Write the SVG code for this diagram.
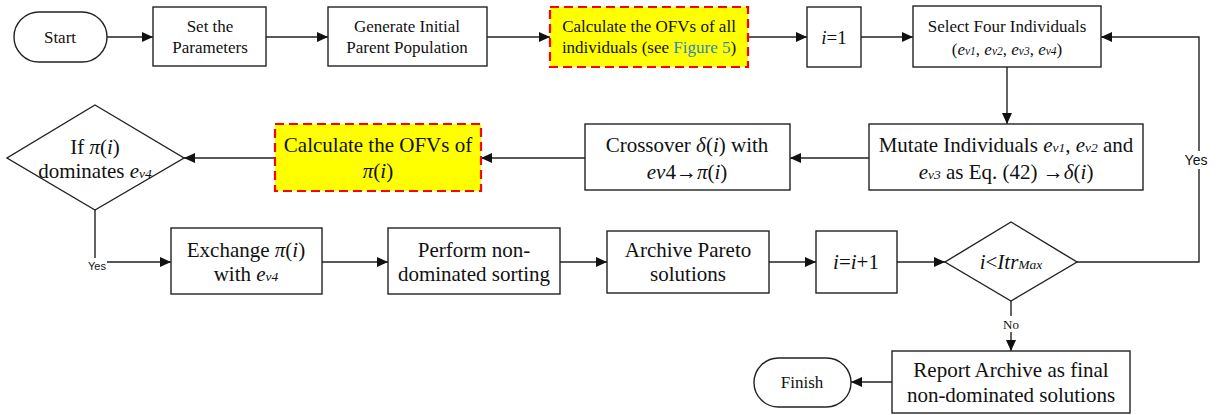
<svg xmlns="http://www.w3.org/2000/svg" width="1218" height="415" viewBox="0 0 1218 415">
<style>
.b{fill:#fff;stroke:#222;stroke-width:1.4}
.y{fill:#ffff00;stroke:#ff0000;stroke-width:2.2;stroke-dasharray:9,5}
.c{fill:none;stroke:#222;stroke-width:1.4}
text{font-family:"Liberation Serif","Times New Roman",serif;fill:#111;text-anchor:middle}
.s{font-size:17px}
.m{font-size:21px}
.i{font-style:italic}
.sub{font-size:11.5px;font-style:italic}
.sb{font-size:13.5px;font-style:italic}
.lbl{font-family:"Liberation Sans",Arial,sans-serif}
</style>
<defs>
<marker id="a" markerUnits="userSpaceOnUse" markerWidth="12" markerHeight="10" refX="11" refY="5" orient="auto">
<path d="M0,0 L11,5 L0,10 Z" fill="#111"/>
</marker>
</defs>
<g id="connectors">
<line class="c" x1="107" y1="37" x2="153" y2="37" marker-end="url(#a)"/>
<line class="c" x1="266" y1="37" x2="328" y2="37" marker-end="url(#a)"/>
<line class="c" x1="487" y1="37" x2="550" y2="37" marker-end="url(#a)"/>
<line class="c" x1="749" y1="37" x2="807" y2="37" marker-end="url(#a)"/>
<line class="c" x1="861" y1="37" x2="913" y2="37" marker-end="url(#a)"/>
<line class="c" x1="1007" y1="67" x2="1007" y2="124" marker-end="url(#a)"/>
<line class="c" x1="869" y1="158" x2="790" y2="158" marker-end="url(#a)"/>
<line class="c" x1="585" y1="158" x2="481" y2="158" marker-end="url(#a)"/>
<line class="c" x1="275" y1="158" x2="184" y2="158" marker-end="url(#a)"/>
<polyline class="c" points="95,210 95,262 171,262" marker-end="url(#a)"/>
<line class="c" x1="322" y1="262" x2="388" y2="262" marker-end="url(#a)"/>
<line class="c" x1="560" y1="262" x2="607" y2="262" marker-end="url(#a)"/>
<line class="c" x1="769" y1="262" x2="816" y2="262" marker-end="url(#a)"/>
<line class="c" x1="897" y1="262" x2="945" y2="262" marker-end="url(#a)"/>
<polyline class="c" points="1077,262 1199,262 1199,37 1101,37" marker-end="url(#a)"/>
<line class="c" x1="1011" y1="301" x2="1011" y2="351" marker-end="url(#a)"/>
<line class="c" x1="892" y1="382" x2="851" y2="382" marker-end="url(#a)"/>
<rect x="1185" y="151" width="28" height="18" fill="#fff"/>
<text class="lbl" x="1196" y="165" font-size="14">Yes</text>
<rect x="87" y="258" width="20" height="14" fill="#fff"/>
<text class="lbl" x="97" y="270" font-size="11">Yes</text>
<rect x="1002" y="316" width="18" height="16" fill="#fff"/>
<text x="1011" y="329" font-size="13">No</text>
</g>
<g id="start">
<rect class="b" x="14" y="12" width="93" height="50" rx="25" ry="25"/>
<text class="s" x="60" y="43">Start</text>
</g>
<g id="setParams">
<rect class="b" x="153" y="7" width="113" height="59"/>
<text class="s" x="210" y="32">Set the</text>
<text class="s" x="210" y="53">Parameters</text>
</g>
<g id="genPop">
<rect class="b" x="328" y="7" width="159" height="59"/>
<text class="s" x="407" y="32">Generate Initial</text>
<text class="s" x="407" y="53">Parent Population</text>
</g>
<g id="calcAll">
<rect class="y" x="550" y="7" width="198" height="60"/>
<text class="s" x="649" y="32">Calculate the OFVs of all</text>
<text class="s" x="649" y="53">individuals (see <tspan fill="#2f86c6">Figure 5</tspan>)</text>
</g>
<g id="i1">
<rect class="b" x="807" y="7" width="54" height="60"/>
<text x="834" y="44" font-size="19"><tspan class="i">i</tspan>=1</text>
</g>
<g id="select">
<rect class="b" x="913" y="6" width="188" height="61"/>
<text class="s" x="1007" y="32">Select Four Individuals</text>
<text class="s" x="1007" y="55">(<tspan class="i">e</tspan><tspan class="sub">v1</tspan>, <tspan class="i">e</tspan><tspan class="sub">v2</tspan>, <tspan class="i">e</tspan><tspan class="sub">v3</tspan>, <tspan class="i">e</tspan><tspan class="sub">v4</tspan>)</text>
</g>
<g id="mutate">
<rect class="b" x="869" y="124" width="274" height="66"/>
<text class="m" x="1006" y="152">Mutate Individuals <tspan class="i">e</tspan><tspan class="sb">v1</tspan>, <tspan class="i">e</tspan><tspan class="sb">v2</tspan> and</text>
<text class="m" x="1006" y="179"><tspan class="i">e</tspan><tspan class="sb">v3</tspan> as Eq. (42) →<tspan class="i">δ</tspan>(<tspan class="i">i</tspan>)</text>
</g>
<g id="crossover">
<rect class="b" x="585" y="124" width="205" height="66"/>
<text class="m" x="687" y="152">Crossover <tspan class="i">δ</tspan>(<tspan class="i">i</tspan>) with</text>
<text class="m" x="687" y="179"><tspan class="i">ev</tspan>4→<tspan class="i">π</tspan>(<tspan class="i">i</tspan>)</text>
</g>
<g id="calcPi">
<rect class="y" x="275" y="124" width="206" height="67"/>
<text class="m" x="378" y="152">Calculate the OFVs of</text>
<text class="m" x="378" y="178"><tspan class="i">π</tspan>(<tspan class="i">i</tspan>)</text>
</g>
<g id="dominates">
<polygon class="b" points="95,105 184,158 95,210 7,158"/>
<text class="m" x="95" y="154">If <tspan class="i">π</tspan>(<tspan class="i">i</tspan>)</text>
<text class="m" x="95" y="178">dominates <tspan class="i">e</tspan><tspan class="sb">v4</tspan></text>
</g>
<g id="exchange">
<rect class="b" x="171" y="228" width="151" height="66"/>
<text class="m" x="246" y="257">Exchange <tspan class="i">π</tspan>(<tspan class="i">i</tspan>)</text>
<text class="m" x="246" y="281">with <tspan class="i">e</tspan><tspan class="sb">v4</tspan></text>
</g>
<g id="sorting">
<rect class="b" x="388" y="228" width="172" height="66"/>
<text class="m" x="474" y="257">Perform non-</text>
<text class="m" x="474" y="281">dominated sorting</text>
</g>
<g id="archive">
<rect class="b" x="607" y="231" width="162" height="62"/>
<text class="m" x="688" y="257">Archive Pareto</text>
<text class="m" x="688" y="281">solutions</text>
</g>
<g id="inc">
<rect class="b" x="816" y="231" width="81" height="62"/>
<text class="m" x="856" y="269"><tspan class="i">i</tspan>=<tspan class="i">i</tspan>+1</text>
</g>
<g id="check">
<polygon class="b" points="1011,222 1077,262 1011,301 945,262"/>
<text class="m" x="1011" y="269"><tspan class="i">i</tspan>&lt;<tspan class="i">Itr</tspan><tspan class="sb">Max</tspan></text>
</g>
<g id="report">
<rect class="b" x="892" y="351" width="238" height="62"/>
<text class="m" x="1011" y="377">Report Archive as final</text>
<text class="m" x="1011" y="402">non-dominated solutions</text>
</g>
<g id="finish">
<rect class="b" x="754" y="358" width="97" height="49" rx="24.5" ry="24.5"/>
<text class="s" x="802" y="388">Finish</text>
</g>
</svg>
